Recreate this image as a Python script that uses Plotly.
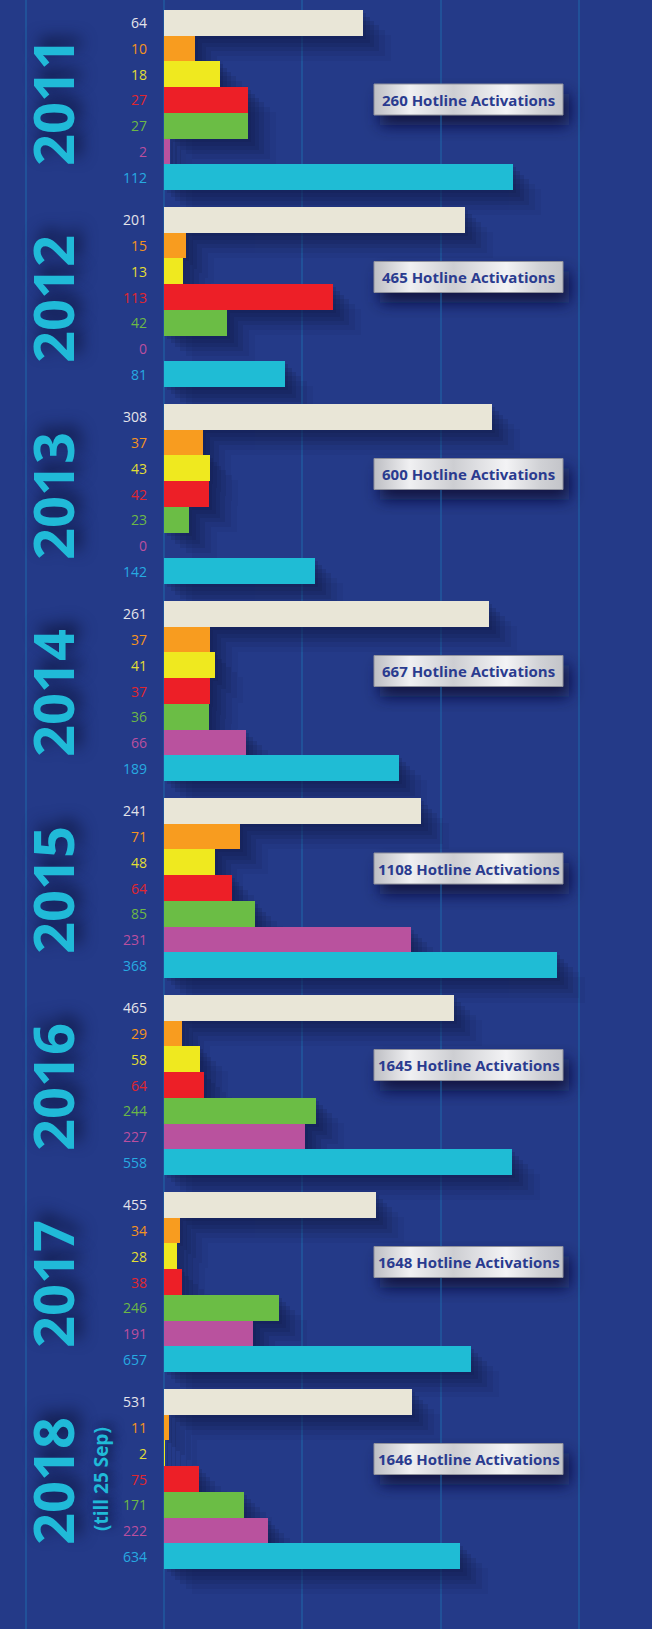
import base64
import plotly.graph_objects as go

W, H = 652, 1629

# ---------------- data ----------------
years = ["2011", "2012", "2013", "2014", "2015", "2016", "2017", "2018"]
year_notes = ["", "", "", "", "", "", "", "(till 25 Sep)"]
totals = [260, 465, 600, 667, 1108, 1645, 1648, 1646]
categories = ["Type 1", "Type 2", "Type 3", "Type 4", "Type 5", "Type 6", "Type 7"]

v2011 = [64, 10, 18, 27, 27, 2, 112]
v2012 = [201, 15, 13, 113, 42, 0, 81]
v2013 = [308, 37, 43, 42, 23, 0, 142]
v2014 = [261, 37, 41, 37, 36, 66, 189]
v2015 = [241, 71, 48, 64, 85, 231, 368]
v2016 = [465, 29, 58, 64, 244, 227, 558]
v2017 = [455, 34, 28, 38, 246, 191, 657]
v2018 = [531, 11, 2, 75, 171, 222, 634]
values = [v2011, v2012, v2013, v2014, v2015, v2016, v2017, v2018]

# each year group uses its own x scale (axis maximum)
axis_max = [156.7, 326, 458, 392, 457, 783, 1045, 1045]

# ---------------- style ----------------
BG = "#243a88"
bar_colors = ["#e9e6d7", "#f89c1f", "#efe91f", "#ed1f27", "#6bbd45", "#b9529e", "#1fbcd5"]
label_colors = ["#e4e4ea", "#f4931e", "#e2de34", "#e0262e", "#6cb846", "#bb4f9f", "#27aae1"]
YEAR_COLOR = "#20bad8"
GRID_COLOR = "#1f68aa"
SHADOW = "#111a45"
FONT = "Open Sans"

X_LEFT = 164
GROUP_TOP0 = 10
GROUP_PITCH = 197
GROUP_H = 180
box_offsets = [89.5, 70, 70, 70, 70.5, 70, 70, 70]  # box centre below group top (px)
BOX_X0, BOX_W, BOX_H = 374, 189, 31

shadow_layers = [(3, 3, 0.18), (7, 7, 0.18), (11, 11, 0.17), (16, 15, 0.15),
                 (22, 20, 0.1), (28, 25, 0.07)]


def py(px):
    return 1 - px / H


def svg_uri(svg):
    return "data:image/svg+xml;base64," + base64.b64encode(svg.encode()).decode()


grad_svg = svg_uri(
    f'<svg xmlns="http://www.w3.org/2000/svg" width="{BOX_W}" height="{BOX_H}" '
    f'viewBox="0 0 {BOX_W} {BOX_H}" preserveAspectRatio="none">'
    '<defs><linearGradient id="g" x1="0" x2="1" y1="0" y2="0">'
    '<stop offset="0" stop-color="#bdbec3"/><stop offset="0.19" stop-color="#f0f0f2"/>'
    '<stop offset="0.42" stop-color="#cdced2"/><stop offset="0.70" stop-color="#f3f3f5"/>'
    '<stop offset="0.88" stop-color="#d0d1d5"/><stop offset="1" stop-color="#c3c4c9"/>'
    '</linearGradient></defs>'
    f'<rect x="0" y="0" width="{BOX_W}" height="{BOX_H}" fill="url(#g)"/></svg>')

PAD = 34
shadow_svg = svg_uri(
    f'<svg xmlns="http://www.w3.org/2000/svg" width="{BOX_W + 2 * PAD}" height="{BOX_H + 2 * PAD}">'
    '<defs><filter id="b" x="-50%" y="-50%" width="200%" height="200%">'
    '<feGaussianBlur stdDeviation="8"/></filter></defs>'
    f'<rect x="{PAD + 6}" y="{PAD + 10}" width="{BOX_W}" height="{BOX_H}" '
    'fill="#0c1236" fill-opacity="0.9" filter="url(#b)"/></svg>')

fig = go.Figure()
layout = dict(
    width=W, height=H,
    margin=dict(l=0, r=0, t=0, b=0),
    paper_bgcolor=BG, plot_bgcolor="rgba(0,0,0,0)",
    bargap=0, showlegend=False, hovermode=False,
    font=dict(family=FONT),
)
annotations = []
shapes = []
images = []

# decorative vertical lines
for gx in [26, 164, 302, 441, 579]:
    shapes.append(dict(type="line", xref="paper", yref="paper",
                       x0=gx / W, x1=gx / W, y0=0, y1=1,
                       line=dict(color=GRID_COLOR, width=1), layer="below"))

n = len(years)
axis_id = 0


def new_axes(xdom, ydom, xmax):
    global axis_id
    axis_id += 1
    sfx = "" if axis_id == 1 else str(axis_id)
    layout["xaxis" + sfx] = dict(domain=xdom, range=[0, xmax], visible=False,
                                 fixedrange=True)
    layout["yaxis" + sfx] = dict(domain=ydom, type="category",
                                 categoryarray=categories, categoryorder="array",
                                 autorange="reversed", visible=False, fixedrange=True)
    return "x" + sfx, "y" + sfx


main_axes = []
for i in range(n):
    top = GROUP_TOP0 + GROUP_PITCH * i
    bot = top + GROUP_H
    # soft drop shadow: same bars drawn on slightly shifted axes
    for dx, dy, op in shadow_layers[::-1]:
        xs, ys = new_axes([(X_LEFT + dx) / W, 1], [py(bot + dy), py(top + dy)],
                          axis_max[i] * (W - X_LEFT - dx) / (W - X_LEFT))
        fig.add_trace(go.Bar(x=values[i], y=categories, orientation="h",
                             xaxis=xs, yaxis=ys, marker=dict(color=SHADOW, line=dict(width=0)),
                             opacity=op, hoverinfo="skip"))
    xa, ya = new_axes([X_LEFT / W, 1], [py(bot), py(top)], axis_max[i])
    main_axes.append((xa, ya))

for i in range(n):
    xa, ya = main_axes[i]
    fig.add_trace(go.Bar(x=values[i], y=categories, orientation="h",
                         xaxis=xa, yaxis=ya,
                         marker=dict(color=bar_colors, line=dict(width=0)),
                         name=years[i]))
    # value labels
    for c, v in enumerate(values[i]):
        annotations.append(dict(text=str(v), xref="paper", x=149 / W, xanchor="right",
                                yref=ya, y=categories[c], yanchor="middle",
                                showarrow=False,
                                font=dict(size=14, color=label_colors[c], family=FONT)))
    # year label
    annotations.append(dict(text=years[i], xref="paper", x=52 / W, xanchor="center",
                            yref=ya + " domain", y=0.5, yanchor="middle", yshift=-2,
                            textangle=-90, showarrow=False,
                            font=dict(size=56, color=YEAR_COLOR, family=FONT, weight="bold",
                                      shadow="8px 6px 16px #0e1640")))
    if year_notes[i]:
        annotations.append(dict(text=year_notes[i], xref="paper", x=101 / W, xanchor="center",
                                yref=ya + " domain", y=0.5, yanchor="middle",
                                textangle=-90, showarrow=False,
                                font=dict(size=19, color=YEAR_COLOR, family=FONT, weight="bold",
                                          shadow="4px 4px 10px #0e1640")))
    # total box
    top = GROUP_TOP0 + GROUP_PITCH * i
    cy = top + box_offsets[i]
    by0 = cy - BOX_H / 2
    images.append(dict(source=shadow_svg, xref="paper", yref="paper",
                       x=(BOX_X0 - PAD) / W, y=py(by0 - PAD),
                       sizex=(BOX_W + 2 * PAD) / W, sizey=(BOX_H + 2 * PAD) / H,
                       xanchor="left", yanchor="top", sizing="stretch", layer="below"))
    images.append(dict(source=grad_svg, xref="paper", yref="paper",
                       x=BOX_X0 / W, y=py(by0),
                       sizex=BOX_W / W, sizey=BOX_H / H,
                       xanchor="left", yanchor="top", sizing="stretch", layer="above"))
    shapes.append(dict(type="rect", xref="paper", yref="paper",
                       x0=BOX_X0 / W, x1=(BOX_X0 + BOX_W) / W,
                       y0=py(by0 + BOX_H), y1=py(by0),
                       line=dict(color="#8e909b", width=1), fillcolor="rgba(0,0,0,0)",
                       layer="above"))
    annotations.append(dict(text=f"<b>{totals[i]} Hotline Activations</b>",
                            xref="paper", x=(BOX_X0 + BOX_W / 2) / W, xanchor="center",
                            yref="paper", y=py(cy), yanchor="middle",
                            showarrow=False,
                            font=dict(size=15, color="#2a3b8f", family=FONT)))

layout["annotations"] = annotations
layout["shapes"] = shapes
layout["images"] = images
fig.update_layout(**layout)
fig.write_html("out.html",
               config={"displayModeBar": False, "staticPlot": True},
               post_script="document.body.style.margin='0';"
                           "document.body.style.background='#243a88';")
